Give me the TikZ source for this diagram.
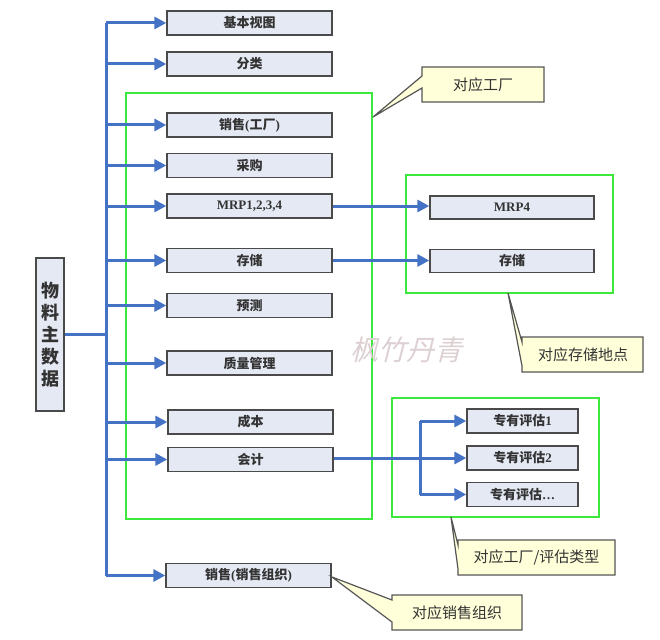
\documentclass[tikz,border=0pt]{standalone}
\usepackage{fontspec}
\setmainfont{Liberation Serif}
\newfontfamily\cjk{Noto Sans CJK SC}
\newfontfamily\wmfont[FakeSlant=0.25]{Noto Sans CJK SC}
\usetikzlibrary{arrows.meta}

\definecolor{boxfill}{HTML}{E4E9F4}
\definecolor{boxline}{HTML}{4A4A4A}
\definecolor{flow}{HTML}{4472C4}
\definecolor{grp}{HTML}{3DE83D}
\definecolor{notefill}{HTML}{FFFFDA}
\definecolor{noteline}{HTML}{555555}
\definecolor{notetext}{HTML}{333333}
\definecolor{wmark}{HTML}{DDD0D2}

\tikzset{
  item/.style={draw=boxline, fill=boxfill, line width=1.4pt, inner sep=0pt,
    minimum width=165pt, minimum height=24pt, text=black!80,
    font=\bfseries\fontsize{13}{13}\selectfont},
  subitem/.style={item, minimum width=164pt, minimum height=23pt},
  evalitem/.style={item, minimum width=111pt, minimum height=24pt},
  flowline/.style={draw=flow, line width=3pt},
  flowarrow/.style={flowline, -{Triangle[length=12pt,width=12pt]}},
  group/.style={draw=grp, line width=2pt},
  note/.style={draw=noteline, fill=notefill, line width=1.2pt, line join=miter},
  notelabel/.style={text=notetext, font=\cjk\fontsize{15}{15}\selectfont}
}

\begin{document}
\begin{tikzpicture}[x=1pt, y=-1pt]
\useasboundingbox (0,0) rectangle (660,639);

% group frames
\draw[group] (126,93) rectangle (372,519);
\draw[group] (406,175) rectangle (613,293);
\draw[group] (392,398) rectangle (599,517);

% watermark
\node[text=wmark, font=\wmfont\fontsize{28}{28}\selectfont] (wm) at (406,350) {枫竹丹青};

% root node
\node[draw=boxline, fill=boxfill, line width=1.4pt, minimum width=28pt, minimum height=153pt,
      inner sep=0pt, align=center, text=black!80,
      font=\cjk\bfseries\fontsize{18}{22}\selectfont] (root) at (50,334.5)
      {物\\料\\主\\数\\据};

% view nodes
\node[item] (b1)  at (249.5,23)    {\cjk 基本视图};
\node[item] (b2)  at (249.5,64)    {\cjk 分类};
\node[item] (b3)  at (249.5,125)   {{\cjk 销售}({\cjk 工厂})};
\node[item] (b4)  at (249.5,165.5) {\cjk 采购};
\node[item] (b5)  at (249.5,206)   {MRP1,2,3,4};
\node[item] (b6)  at (249.5,260.5) {\cjk 存储};
\node[item] (b7)  at (249.5,305.5) {\cjk 预测};
\node[item] (b8)  at (249.5,363)   {\cjk 质量管理};
\node[item] (b9)  at (250.5,422)   {\cjk 成本};
\node[item] (b10) at (250.5,459.5) {\cjk 会计};
\node[item] (b11) at (248.5,575.5) {{\cjk 销售}({\cjk 销售组织})};

% storage-location level
\node[subitem] (r1) at (512,207.5) {MRP4};
\node[subitem] (r2) at (512,261)   {\cjk 存储};

% valuation level
\node[evalitem] (e1) at (522.5,421)   {{\cjk 专有评估}1};
\node[evalitem] (e2) at (522.5,458)   {{\cjk 专有评估}2};
\node[evalitem] (e3) at (522.5,494.5) {{\cjk 专有评估}…};

% trunk
\coordinate (trunk) at (106,334.5);
\draw[flowline] (root.east) -- (trunk);
\draw[flowline] (trunk |- b1.west) -- (trunk |- b11.west);
\foreach \n in {b1,b2,b3,b4,b5,b6,b7,b8,b9,b10,b11}
  \draw[flowarrow] (trunk |- \n.west) -- (\n.west);

% plant to storage location
\draw[flowarrow] (b5.east) -- (b5.east -| r1.west);
\draw[flowarrow] (b6.east) -- (b6.east -| r2.west);

% accounting to valuation
\coordinate (fork) at (420,458);
\draw[flowarrow] (b10.east |- e2.west) -- (e2.west);
\draw[flowline] (fork |- e1.west) -- (fork |- e3.west);
\draw[flowarrow] (fork |- e1.west) -- (e1.west);
\draw[flowarrow] (fork |- e3.west) -- (e3.west);

% callouts
\filldraw[note] (422,67) -- (544,67) -- (544,102) -- (422,102) -- (422,88) -- (373,117) -- (422,76) -- cycle;
\node[notelabel] (n1) at (483,84.5) {对应工厂};

\filldraw[note] (522,337) -- (643,337) -- (643,372) -- (522,372) -- (522,366) -- (508,293) -- (522,342) -- cycle;
\node[notelabel] (n2) at (583,354.5) {对应存储地点};

\filldraw[note] (458,540) -- (615,540) -- (615,575) -- (458,575) -- (458,569) -- (451,517) -- (458,545) -- cycle;
\node[notelabel] (n3) at (536.5,557.5) {对应工厂/评估类型};

\filldraw[note] (392,595) -- (522,595) -- (522,630) -- (392,630) -- (392,622) -- (332,577) -- (392,600) -- cycle;
\node[notelabel] (n4) at (457,612.5) {对应销售组织};
\end{tikzpicture}
\end{document}
